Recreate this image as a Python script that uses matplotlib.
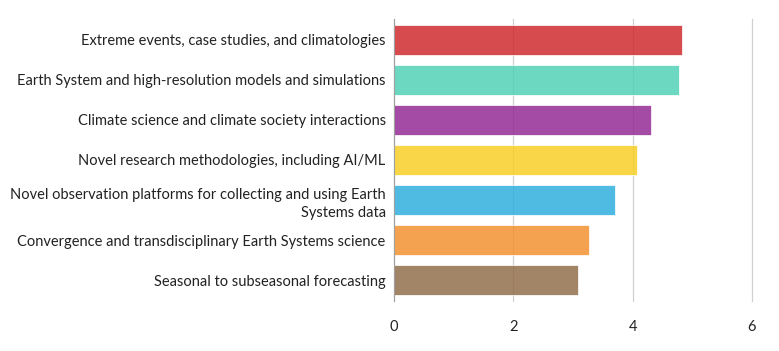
import numpy as np
import matplotlib
matplotlib.use('Agg')
from matplotlib import pyplot as plt

topics = [
    "Extreme events, case studies, and climatologies",
    "Earth System and high-resolution models and simulations",
    "Climate science and climate society interactions",
    "Novel research methodologies, including AI/ML",
    "Novel observation platforms for collecting and using Earth\nSystems data",
    "Convergence and transdisciplinary Earth Systems science",
    "Seasonal to subseasonal forecasting",
]
scores = [4.83, 4.78, 4.31, 4.08, 3.70, 3.27, 3.09]
colors = ['#cf2b2f', '#53d2b6', '#942c95', '#f8cf28', '#30b0de', '#f39231', '#926e4b']
xticks = [0, 2, 4, 6]

plt.rcParams['font.family'] = ['Lato', 'DejaVu Sans']

fig = plt.figure(figsize=(7.79, 3.51), dpi=100)
ax = fig.add_axes([0.5058, 0.1425, 0.4595, 0.8035])

ypos = np.arange(len(topics))
ax.barh(ypos, scores, height=0.75, color=colors, alpha=0.85,
        edgecolor='white', linewidth=0.6, zorder=3)

ax.set_ylim(len(topics) - 0.48, -0.52)
ax.set_xlim(0, 6)
ax.set_xticks(xticks)
ax.set_yticks(ypos)
ax.set_yticklabels(topics, fontsize=10.5, color='#222222', linespacing=1.4)
ax.tick_params(axis='x', length=0, pad=14, labelsize=10.5, labelcolor='#222222')
ax.tick_params(axis='y', length=0, pad=6)

ax.grid(axis='x', color='#d0d0d0', linewidth=0.9, zorder=0)
for gl in ax.get_xgridlines():
    gl.set_clip_on(False)
for side in ('top', 'right', 'bottom'):
    ax.spines[side].set_visible(False)
ax.spines['left'].set_color('#a0a0a0')
ax.spines['left'].set_zorder(4)

fig.savefig('out.png', dpi=100)
